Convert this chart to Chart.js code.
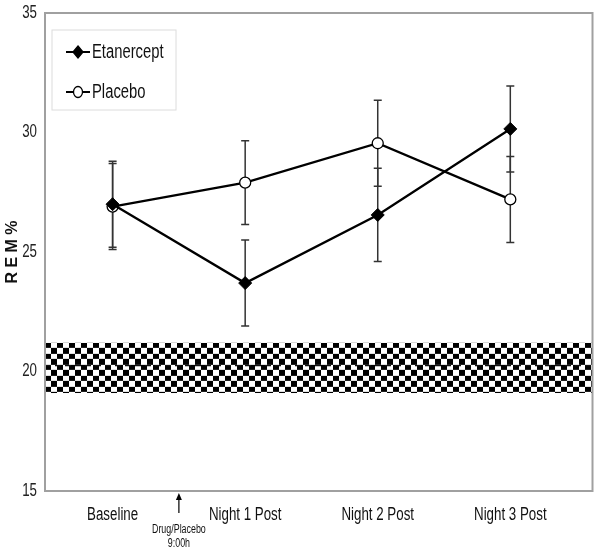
<!DOCTYPE html>
<html><head><meta charset="utf-8">
<script src="https://cdn.jsdelivr.net/npm/chart.js@4"></script>
<style>html,body{margin:0;padding:0;background:#fff}#wrap{width:600px;height:553px}</style>
</head><body><div id="wrap"><canvas id="c" width="600" height="553"></canvas></div>
<script>
const categories = ["Baseline", "Night 1 Post", "Night 2 Post", "Night 3 Post"];
const etanercept = [27.0, 23.7, 26.55, 30.15];
const etanerceptErr = [1.8, 1.8, 1.95, 1.8];
const placebo = [26.9, 27.9, 29.55, 27.2];
const placeboErr = [1.8, 1.75, 1.8, 1.8];
const yTicks = [15, 20, 25, 30, 35];
const normalBand = [19.1, 21.2];
const normalMid = 20.25;
const drugTime = 0.5;
const drugLabel = ["Drug/Placebo", "9:00h"];
const seriesNames = ["Etanercept", "Placebo"];

const FONT = "'Liberation Sans', Arial, sans-serif";
const SQX = 0.74; // horizontal squeeze to mimic a narrow face

function narrowText(ctx, text, x, y, size, align, color) {
  ctx.save();
  ctx.font = size + "px " + FONT;
  ctx.fillStyle = color || '#111';
  ctx.textBaseline = 'middle';
  ctx.textAlign = align;
  ctx.translate(x, y);
  ctx.scale(SQX, 1);
  ctx.fillText(text, 0, 0);
  ctx.restore();
}

function checker() {
  const p = document.createElement('canvas');
  p.width = 12; p.height = 11;
  const g = p.getContext('2d');
  g.fillStyle = '#fff'; g.fillRect(0,0,12,11);
  g.fillStyle = '#000';
  g.fillRect(0,0,6,5); g.fillRect(6,5,6,6);
  return p;
}

const bandPlugin = {
  id: 'band',
  beforeDatasetsDraw(chart) {
    const {ctx, chartArea: a, scales: {x, y}} = chart;
    const t = y.getPixelForValue(normalBand[1]), b = y.getPixelForValue(normalBand[0]);
    ctx.save();
    const pat = ctx.createPattern(checker(), 'repeat');
    ctx.translate(a.left, t);
    ctx.fillStyle = pat;
    ctx.fillRect(0, 0, a.right - a.left, b - t);
    ctx.restore();
    ctx.save();
    const m = y.getPixelForValue(normalMid);
    ctx.strokeStyle = '#111'; ctx.lineWidth = 1.2; ctx.setLineDash([6,4]);
    ctx.beginPath(); ctx.moveTo(a.left, m); ctx.lineTo(a.right, m); ctx.stroke();
    ctx.restore();
    // frame
    ctx.save();
    ctx.strokeStyle = '#a0a0a0'; ctx.lineWidth = 2;
    ctx.strokeRect(a.left, a.top, a.right - a.left, a.bottom - a.top);
    ctx.restore();
    // tick labels
    yTicks.forEach(v => narrowText(ctx, String(v), a.left - 8, y.getPixelForValue(v), 18, 'right', '#222'));
    categories.forEach((c, i) => narrowText(ctx, c, x.getPixelForValue(i), a.bottom + 24, 18, 'center', '#111'));
    // error bars
    ctx.save();
    ctx.strokeStyle = '#333'; ctx.lineWidth = 1.5;
    [[etanercept, etanerceptErr],[placebo, placeboErr]].forEach(([vals, errs]) => {
      vals.forEach((v, i) => {
        const px = x.getPixelForValue(i);
        const hi = y.getPixelForValue(v + errs[i]), lo = y.getPixelForValue(v - errs[i]);
        ctx.beginPath();
        ctx.moveTo(px, hi); ctx.lineTo(px, lo);
        ctx.moveTo(px - 4, hi); ctx.lineTo(px + 4, hi);
        ctx.moveTo(px - 4, lo); ctx.lineTo(px + 4, lo);
        ctx.stroke();
      });
    });
    ctx.restore();
  },
  afterDraw(chart) {
    const {ctx, scales: {x}, chartArea: a} = chart;
    // arrow
    const ax = x.getPixelForValue(drugTime);
    ctx.save();
    ctx.strokeStyle = '#000'; ctx.fillStyle = '#000'; ctx.lineWidth = 1.2;
    ctx.beginPath(); ctx.moveTo(ax, a.bottom + 22); ctx.lineTo(ax, a.bottom + 7); ctx.stroke();
    ctx.beginPath(); ctx.moveTo(ax, a.bottom + 2); ctx.lineTo(ax - 3, a.bottom + 9); ctx.lineTo(ax + 3, a.bottom + 9); ctx.closePath(); ctx.fill();
    ctx.restore();
    narrowText(ctx, drugLabel[0], ax, a.bottom + 39, 12, 'center', '#111');
    narrowText(ctx, drugLabel[1], ax, a.bottom + 53, 12, 'center', '#111');
    // legend
    ctx.save();
    const lx = a.left + 7, ly = a.top + 17, lw = 124, lh = 80;
    ctx.strokeStyle = '#dcdcdc'; ctx.lineWidth = 1;
    ctx.strokeRect(lx, ly, lw, lh);
    const rows = [{t: seriesNames[0], y: ly + 22, fill: '#000', style: 'rectRot'}, {t: seriesNames[1], y: ly + 62, fill: '#fff', style: 'circle'}];
    rows.forEach(r => {
      ctx.strokeStyle = '#000'; ctx.lineWidth = 2;
      ctx.beginPath(); ctx.moveTo(lx + 14, r.y); ctx.lineTo(lx + 38, r.y); ctx.stroke();
      ctx.fillStyle = r.fill; ctx.lineWidth = 1.3;
      if (r.style === 'rectRot') {
        ctx.beginPath(); ctx.moveTo(lx + 26, r.y - 6); ctx.lineTo(lx + 31, r.y); ctx.lineTo(lx + 26, r.y + 6); ctx.lineTo(lx + 21, r.y); ctx.closePath(); ctx.fill(); ctx.stroke();
      } else {
        ctx.beginPath(); ctx.ellipse(lx + 26, r.y, 4.5, 5.5, 0, 0, Math.PI * 2); ctx.fill(); ctx.stroke();
      }
      narrowText(ctx, r.t, lx + 40, r.y, 20, 'left', '#111');
    });
    ctx.restore();
  }
};

new Chart(document.getElementById('c'), {
  type: 'line',
  data: {
    datasets: [
      {label: seriesNames[0], data: etanercept.map((v, i) => ({x: i, y: v})), borderColor: '#000', borderWidth: 2.3,
       pointStyle: 'rectRot', pointRadius: 6.5, pointBackgroundColor: '#000', pointBorderColor: '#000', pointBorderWidth: 1, tension: 0},
      {label: seriesNames[1], data: placebo.map((v, i) => ({x: i, y: v})), borderColor: '#000', borderWidth: 2.3,
       pointStyle: 'circle', pointRadius: 5.5, pointBackgroundColor: '#fff', pointBorderColor: '#000', pointBorderWidth: 1.3, tension: 0}
    ]
  },
  options: {
    responsive: false, animation: false,
    layout: {padding: {top: 13, right: 3, left: 0, bottom: 0}},
    plugins: {legend: {display: false}, tooltip: {enabled: false}},
    scales: {
      x: {type: 'linear', min: -0.51, max: 3.62,
          afterBuildTicks: s => { s.ticks = categories.map((c, i) => ({value: i})); },
          afterFit: s => { s.height = 62; },
          ticks: {display: false},
          grid: {display: false, drawTicks: false}, border: {display: false}},
      y: {min: 15, max: 35,
          afterBuildTicks: s => { s.ticks = yTicks.map(v => ({value: v})); },
          afterFit: s => { s.width = 45; },
          ticks: {display: false},
          grid: {display: false, drawTicks: false}, border: {display: false},
          title: {display: true, text: 'R E M %', color: '#111', font: {family: FONT, size: 16, weight: 'bold'}, padding: {top: 3, bottom: 0}}}
    }
  },
  plugins: [bandPlugin]
});
</script></body></html>
